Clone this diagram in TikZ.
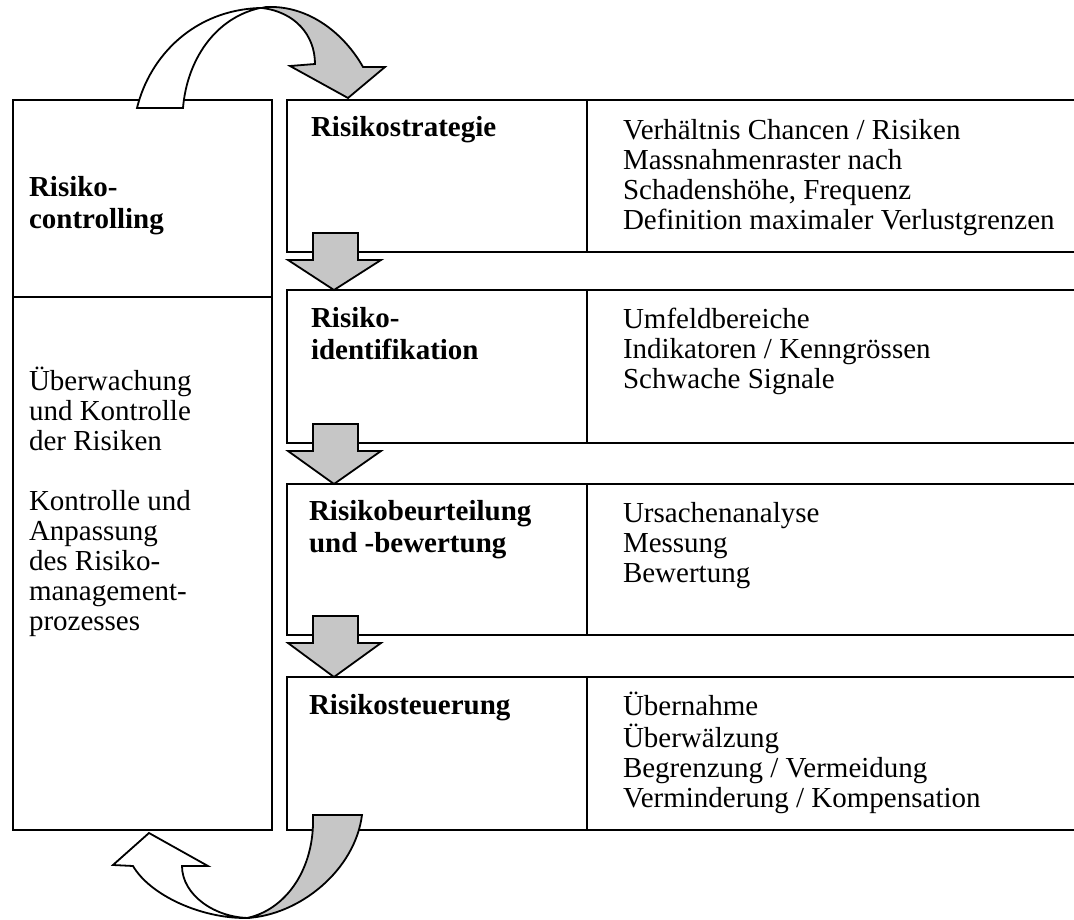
\documentclass[tikz,border=0pt]{standalone}
\usepackage{fontspec}
\setmainfont{Liberation Serif}
\definecolor{arrowgray}{RGB}{198,198,198}
\newcommand{\tl}[1]{\begin{tabular}[t]{@{}l@{}}#1\end{tabular}}
\newcommand{\pf}{\fontsize{29}{30}\selectfont}
\newcommand{\bff}{\fontsize{29}{32}\selectfont\bfseries}
\newcommand{\dnarrow}[2]{%
  \filldraw[dn] (313,#1-19) -- (358,#1-19) -- (358,#1+8) -- (381,#1+8) -- (334,#2) -- (288,#1+8) -- (313,#1+8) -- cycle;}
\begin{document}
\begin{tikzpicture}[x=1pt,y=-1pt,line width=1.8pt,
  bx/.style={draw=none,rectangle,inner sep=0pt,outer sep=0pt,anchor=north west},
  dn/.style={fill=arrowgray,draw=black,line width=1.8pt,line join=miter},
  wt/.style={fill=white,draw=black,line width=1.8pt,line join=miter},
  txt/.style={anchor=base west,inner sep=0pt,outer sep=0pt}]
\useasboundingbox (0,0) rectangle (1074,920);
\fill[white] (0,0) rectangle (1074,920);

% left box
\node[bx,minimum width=259pt,minimum height=730pt] (lb) at (13,100) {};
\draw (lb.north west) rectangle (lb.south east);
\coordinate (ld) at (13,297);
\draw (ld) -- (ld -| lb.east);

% right rows
\node[bx,minimum width=787pt,minimum height=152pt] (r1) at (287,100) {};
\node[bx,minimum width=787pt,minimum height=153pt] (r2) at (287,290) {};
\node[bx,minimum width=787pt,minimum height=151pt] (r3) at (287,484) {};
\node[bx,minimum width=787pt,minimum height=153pt] (r4) at (287,677) {};
\foreach \r in {r1,r2,r3,r4}{
  \draw (\r.north east) -- (\r.north west) -- (\r.south west) -- (\r.south east);
  \draw ([xshift=300pt]\r.north west) -- ([xshift=300pt]\r.south west);
}

% straight arrows
\dnarrow{252}{290}
\dnarrow{443}{484}
\dnarrow{635}{677}

% top curved arrow
\filldraw[wt] (137,108) -- (183,108) .. controls (187,60) and (215,18) .. (260,8)
  .. controls (195,10) and (150,55) .. (137,108) -- cycle;
\filldraw[dn] (262,8) .. controls (295,12) and (315,35) .. (315,64) -- (290,66) -- (348,98)
  -- (385,67) -- (363,67) .. controls (345,35) and (310,5) .. (266,7) -- cycle;

% bottom curved arrow
\filldraw[wt] (245,918) .. controls (200,918) and (150,895) .. (133,866) -- (113,865) -- (149,833)
  -- (208,866) -- (182,866) .. controls (182,895) and (215,918) .. (250,918) -- cycle;
\filldraw[dn] (313,815) -- (362,815) .. controls (355,870) and (300,915) .. (247,918)
  .. controls (285,910) and (315,870) .. (313,815) -- cycle;

% texts
\node[txt] (lt1) at (29,197) {\bff\tl{Risiko-\\controlling}};
\node[txt] (lt2) at (29,390) {\pf\tl{Überwachung\\und Kontrolle\\der Risiken\\ \\Kontrolle und\\Anpassung\\des Risiko-\\management-\\prozesses}};

\node[txt] (m1) at (311,137) {\bff\tl{Risikostrategie}};
\node[txt] (m2) at (311,327) {\bff\tl{Risiko-\\identifikation}};
\node[txt] (m3) at (309,520) {\bff\tl{Risikobeurteilung\\und -bewertung}};
\node[txt] (m4) at (309,714) {\bff\tl{Risikosteuerung}};

\node[txt] (t1) at (623,140) {\pf\tl{Verhältnis Chancen / Risiken\\Massnahmenraster nach\\Schadenshöhe, Frequenz\\Definition maximaler Verlustgrenzen}};
\node[txt] (t2) at (623,328) {\pf\tl{Umfeldbereiche\\Indikatoren / Kenngrössen\\Schwache Signale}};
\node[txt] (t3) at (623,522) {\pf\tl{Ursachenanalyse\\Messung\\Bewertung}};
\node[txt] (t4) at (623,715) {\pf\tl{Übernahme\\Überwälzung\\Begrenzung / Vermeidung\\Verminderung / Kompensation}};
\end{tikzpicture}
\end{document}
